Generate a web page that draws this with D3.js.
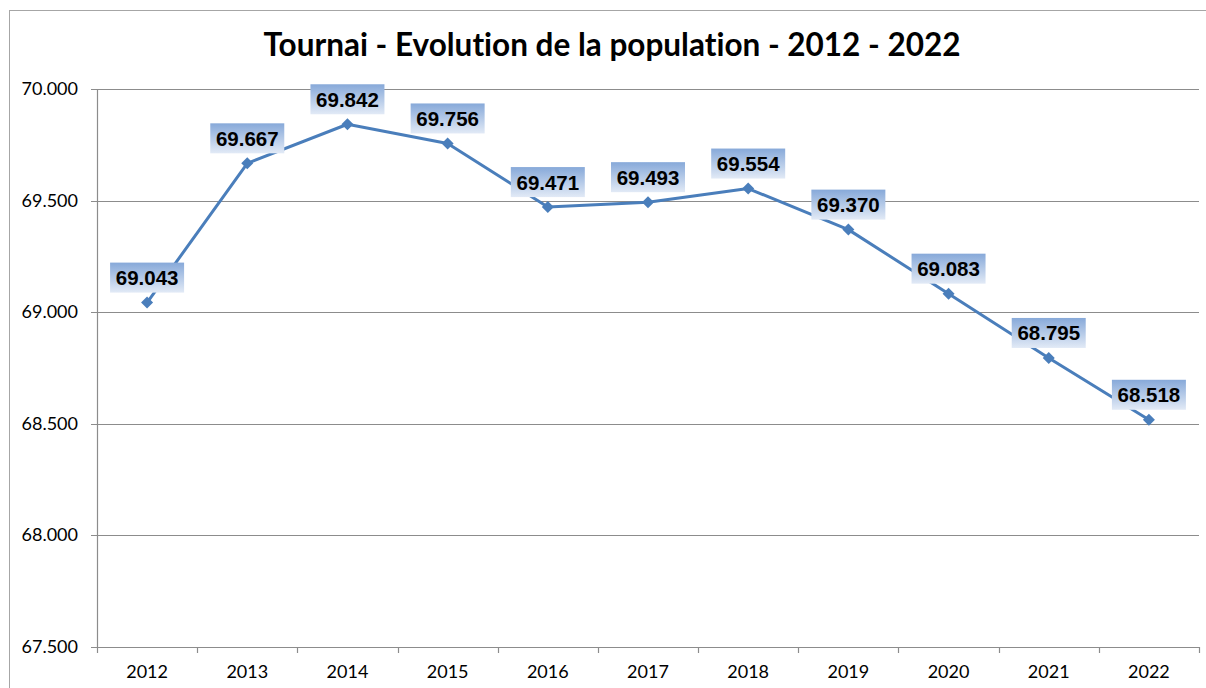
<!DOCTYPE html>
<html>
<head>
<meta charset="utf-8">
<script src="https://cdn.jsdelivr.net/npm/d3@7"></script>
<style>
  body { margin: 0; background: #fff; }
  text { font-variant-ligatures: none; font-feature-settings: "liga" 0, "clig" 0, "dlig" 0; }
</style>
</head>
<body>
<div id="chart"></div>
<script>
const years = ["2012", "2013", "2014", "2015", "2016", "2017", "2018", "2019", "2020", "2021", "2022"];
const population = [69043, 69667, 69842, 69756, 69471, 69493, 69554, 69370, 69083, 68795, 68518];
const yTicks = [67500, 68000, 68500, 69000, 69500, 70000];

const width = 1206, height = 688;
const margin = { top: 89, right: 7, bottom: 41, left: 97 };

const fmt = v => d3.format(".3f")(v / 1000);

const svg = d3.select("#chart")
    .append("svg")
    .attr("width", width)
    .attr("height", height);

// outer frame
svg.append("rect")
    .attr("x", 9.5)
    .attr("y", 10.5)
    .attr("width", 1210)
    .attr("height", 700)
    .attr("fill", "white")
    .attr("stroke", "#a6a6a6")
    .attr("stroke-width", 1);

const defs = svg.append("defs");
const grad = defs.append("linearGradient")
    .attr("id", "lblGrad")
    .attr("x1", 0).attr("y1", 0).attr("x2", 0).attr("y2", 1);
grad.append("stop").attr("offset", "0%").attr("stop-color", "#87a9d9");
grad.append("stop").attr("offset", "100%").attr("stop-color", "#e2eaf6");

const x = d3.scaleBand()
    .domain(years)
    .range([margin.left, width - margin.right]);

const y = d3.scaleLinear()
    .domain([67500, 70000])
    .range([height - margin.bottom, margin.top]);

// title
svg.append("text")
    .attr("x", 612)
    .attr("y", 56)
    .attr("text-anchor", "middle")
    .style("font-family", "Lato, 'Open Sans', sans-serif")
    .style("font-size", "31.5px")
    .style("font-weight", "bold")
    .text("Tournai - Evolution de la population - 2012 - 2022");

// gridlines
svg.append("g")
    .selectAll("line")
    .data(yTicks)
    .enter()
    .append("line")
    .attr("x1", margin.left - 6)
    .attr("x2", width - margin.right)
    .attr("y1", d => Math.round(y(d)) + 0.5)
    .attr("y2", d => Math.round(y(d)) + 0.5)
    .attr("stroke", "#8c8c8c")
    .attr("stroke-width", 1.2);

// y axis line
svg.append("line")
    .attr("x1", margin.left + 0.5).attr("x2", margin.left + 0.5)
    .attr("y1", margin.top).attr("y2", height - margin.bottom)
    .attr("stroke", "#8c8c8c")
    .attr("stroke-width", 1.2);

// y labels
svg.append("g")
    .selectAll("text")
    .data(yTicks)
    .enter()
    .append("text")
    .attr("x", 78)
    .attr("y", d => y(d) + 6)
    .attr("text-anchor", "end")
    .style("font-family", "Lato, 'Open Sans', sans-serif")
    .style("font-size", "18px")
    .text(d => fmt(d));

// x ticks at band boundaries
const bounds = years.map(d => x(d)).concat([x(years[years.length - 1]) + x.bandwidth()]);
svg.append("g")
    .selectAll("line")
    .data(bounds)
    .enter()
    .append("line")
    .attr("x1", d => Math.round(d) + 0.5)
    .attr("x2", d => Math.round(d) + 0.5)
    .attr("y1", height - margin.bottom)
    .attr("y2", height - margin.bottom + 6)
    .attr("stroke", "#8c8c8c")
    .attr("stroke-width", 1.2);

// x labels
svg.append("g")
    .selectAll("text")
    .data(years)
    .enter()
    .append("text")
    .attr("x", d => x(d) + x.bandwidth() / 2)
    .attr("y", 678)
    .attr("text-anchor", "middle")
    .style("font-family", "Lato, 'Open Sans', sans-serif")
    .style("font-size", "18px")
    .text(d => d);

const pts = years.map((d, i) => ({ year: d, value: population[i] }));

const line = d3.line()
    .x(d => x(d.year) + x.bandwidth() / 2)
    .y(d => y(d.value));

svg.append("path")
    .datum(pts)
    .attr("d", line)
    .attr("fill", "none")
    .attr("stroke", "#4a7ebb")
    .attr("stroke-width", 3)
    .attr("stroke-linejoin", "round");

svg.append("g")
    .selectAll("path")
    .data(pts)
    .enter()
    .append("path")
    .attr("d", d3.symbol().type(d3.symbolSquare).size(72))
    .attr("transform", d => `translate(${x(d.year) + x.bandwidth() / 2},${y(d.value)}) rotate(45)`)
    .attr("fill", "#4a7ebb");

// data labels
const labels = svg.append("g")
    .selectAll("g")
    .data(pts)
    .enter()
    .append("g")
    .attr("transform", d => `translate(${x(d.year) + x.bandwidth() / 2},${y(d.value) - 25})`);

labels.append("rect")
    .attr("x", -37)
    .attr("y", -15)
    .attr("width", 74)
    .attr("height", 30)
    .attr("fill", "url(#lblGrad)");

labels.append("text")
    .attr("y", 7.5)
    .attr("text-anchor", "middle")
    .style("font-family", "'Liberation Sans', Arial, sans-serif")
    .style("font-size", "20.5px")
    .style("font-weight", "bold")
    .text(d => fmt(d.value));
</script>
</body>
</html>
